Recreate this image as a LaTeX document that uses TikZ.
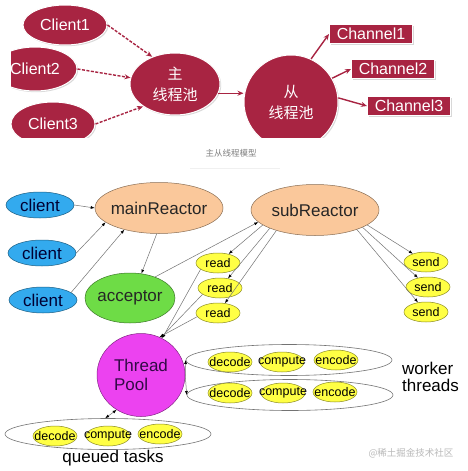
\documentclass[tikz,border=0pt]{standalone}
\usepackage{fontspec}
\setmainfont{Liberation Sans}
\newfontfamily\cjkfont{Noto Sans CJK SC}
\usepackage{tikz}
\usetikzlibrary{positioning, shapes.geometric, arrows.meta, shadows}
\definecolor{poolred}{RGB}{168,36,66}
\definecolor{clientblue}{RGB}{51,170,238}
\definecolor{reactorpeach}{RGB}{250,200,155}
\definecolor{acceptgreen}{RGB}{110,220,70}
\definecolor{taskyellow}{RGB}{255,255,68}
\definecolor{poolmagenta}{RGB}{236,66,240}
\definecolor{linegray}{gray}{0.45}

\begin{document}
\begin{tikzpicture}[x=1pt, y=-1pt,
    every node/.style={font=\fontsize{17}{19}\selectfont, align=center, inner sep=0pt},
    topoval/.style={ellipse, fill=poolred, draw=white, line width=1pt, text=white,
                    font=\fontsize{16}{18}\selectfont,
                    drop shadow={opacity=0.3, shadow xshift=1.2pt, shadow yshift=-1.2pt}},
    pool/.style   ={topoval, font=\cjkfont\fontsize{15}{21}\selectfont},
    topbox/.style ={rectangle, fill=poolred, draw=white, line width=1pt, text=white,
                    minimum width=83pt, minimum height=19pt, font=\fontsize{16}{18}\selectfont,
                    drop shadow={opacity=0.3, shadow xshift=1.2pt, shadow yshift=-1.2pt}},
    dasharrow/.style ={poolred, line width=1.4pt, dash pattern=on 3pt off 1.5pt, -{Stealth[length=6pt,width=5pt]}},
    solidarrow/.style={poolred, line width=1.4pt, -{Stealth[length=6pt,width=5pt]}},
    blob/.style   ={ellipse, draw=#1!55!black, fill=#1, line width=0.5pt},
    client/.style ={blob=clientblue, minimum width=68pt, minimum height=26pt, text=black!80!blue},
    reactor/.style={blob=reactorpeach, minimum width=128pt, minimum height=51pt, inner xsep=-12pt, text=black!85},
    task/.style   ={blob=taskyellow, minimum width=44pt, minimum height=20pt, inner xsep=-18pt, font=\fontsize{12.5}{14}\selectfont},
    group/.style  ={ellipse, draw=linegray, line width=0.6pt, minimum width=206pt, minimum height=31pt},
    link/.style   ={draw=linegray, line width=0.5pt, -{Latex[length=4pt,width=3pt,color=black]}},
    bilink/.style ={link, {Latex[length=4pt,width=3pt,color=black]}-{Latex[length=4pt,width=3pt,color=black]}}
]
\fill[white] (0,0) rectangle (467,471);
% Top -- master / slave thread pools
\begin{scope}
  \clip (11,5) rectangle (467,137);
  \node[topoval, minimum width=84pt, minimum height=40pt] (c1) at (65,25)  {Client1};
  \node[topoval, minimum width=84pt, minimum height=44pt] (c2) at (35,69)  {Client2};
  \node[topoval, minimum width=84pt, minimum height=44pt] (c3) at (53,124) {Client3};
  \node[pool, minimum width=90pt, minimum height=62pt] (master) at (175,84)  {主\\线程池};
  \node[pool, minimum width=94pt, minimum height=94pt] (slave)  at (291,102) {从\\线程池};
\end{scope}
\node[topbox] (ch1) at (371,34)  {Channel1};
\node[topbox] (ch2) at (393,69)  {Channel2};
\node[topbox] (ch3) at (409,106) {Channel3};
\node[font=\cjkfont\fontsize{8.5}{10}\selectfont, text=gray] (caption) at (231,153) {主从线程模型};
\draw[gray!12] (190,168) -- (280,168);
% Top arrows
\draw[dasharrow] (c1.east) -- (master.130);
\draw[dasharrow] (c2.east) -- (master.172);
\draw[dasharrow] (c3.east) -- (master.215);
\draw[solidarrow] (master.-12) -- (master.-12 -| slave.west);
\draw[solidarrow] (slave.65) -- (ch1.west);
\draw[solidarrow] (slave.30) -- (ch2.west);
\draw[solidarrow] (slave.5)  -- (ch3.west);
% Bottom -- reactors
\node[client] (cl1) at (40,205) {client};
\node[client] (cl2) at (42,253) {client};
\node[client] (cl3) at (43,300) {client};
\node[reactor] (mainR) at (159,208) {mainReactor};
\node[reactor] (subR)  at (315,210) {subReactor};
\node[blob=acceptgreen, minimum width=90pt, minimum height=50pt, inner xsep=-6pt, text=black!85] (acc) at (130,298) {acceptor};
\node[task] (rd1) at (218,263) {read};
\node[task] (rd2) at (220,288) {read};
\node[task] (rd3) at (218,313) {read};
\node[task] (sd1) at (426,262) {send};
\node[task] (sd2) at (428,287) {send};
\node[task] (sd3) at (426,312) {send};
% Thread pool, workers and queue
\node[blob=poolmagenta, minimum width=88pt, minimum height=83pt, align=left, text={rgb,255:red,50;green,10;blue,70}] (tp) at (141,375) {Thread\\Pool};
\node[group] (w1) at (289,360) {};
\node[group] (w2) at (290,395) {};
\node[group] (queued) at (108,434) {};
\node[task] (w1dec) at (230,362) {decode};
\node[task] (w1com) at (282,362) {compute};
\node[task] (w1enc) at (336,360) {encode};
\node[task] (w2dec) at (230,393) {decode};
\node[task] (w2com) at (283,393) {compute};
\node[task] (w2enc) at (335,392) {encode};
\node[task] (qdec) at (55,436)  {decode};
\node[task] (qcom) at (108,436) {compute};
\node[task] (qenc) at (160,434) {encode};
\node[anchor=west, align=left, font=\fontsize{17}{17}\selectfont] (workers) at (402,377) {worker\\threads};
\node (qlabel) at (113,458) {queued tasks};
\node[font=\cjkfont\fontsize{9.5}{11}\selectfont, text=gray!55] (mark) at (411,453) {@稀土掘金技术社区};
% Bottom arrows
\draw[link] (cl1.east) -- (mainR.west);
\draw[link] (cl2.east) -- (mainR.195);
\draw[link] (cl3.15)   -- (mainR.212);
\draw[link] (mainR.265) -- (acc.65);
\draw[link] (acc.40) -- (subR.192);
\draw[link] (subR.196) -- (rd1);
\draw[link] (subR.202) -- (rd2);
\draw[link] (subR.208) -- (rd3);
\draw[link] (subR.-16) -- (sd1);
\draw[link] (subR.-20) -- (sd2);
\draw[link] (subR.-25) -- (sd3);
\draw[link] (rd1.200) -- (tp.60);
\draw[link] (rd2.200) -- (tp.62);
\draw[link] (rd3.190) -- (tp.64);
\draw[link] (tp.east) -- (w1.west);
\draw[link] (tp.east) -- (w2.west);
\draw[bilink] (tp.235) -- (queued.100);
\end{tikzpicture}
\end{document}
